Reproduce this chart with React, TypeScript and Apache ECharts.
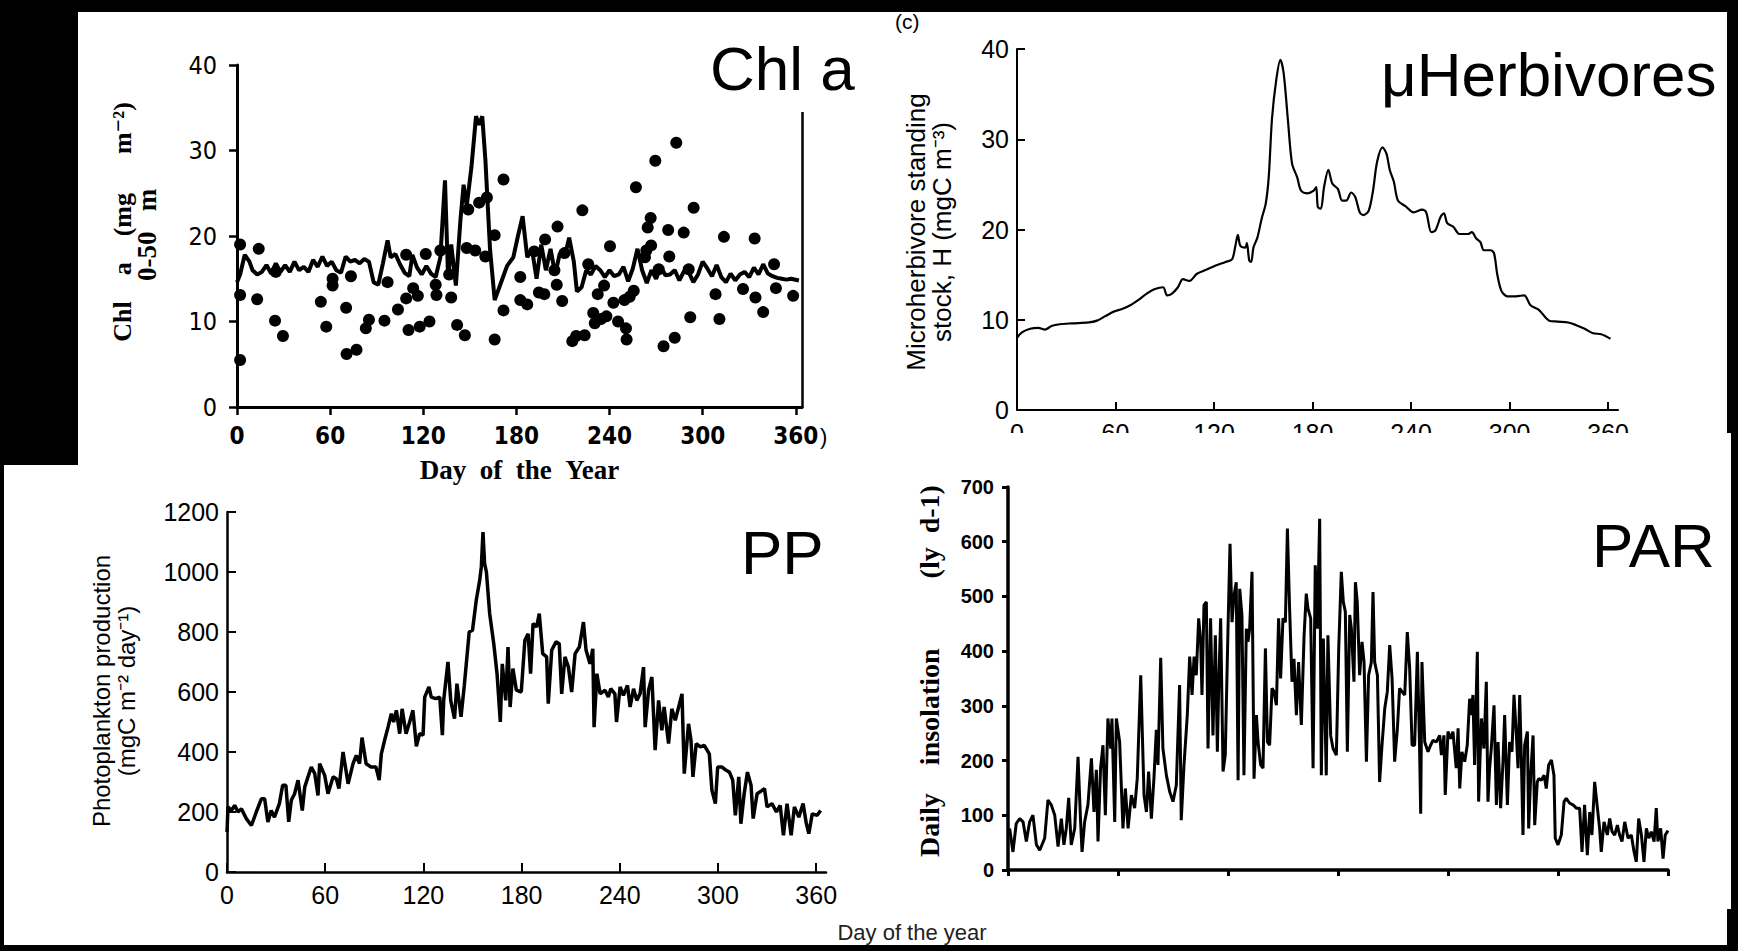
import React, { useEffect, useRef } from "react";
import * as echarts from "echarts";

// ---------- data ----------
const dayTicks = [0, 60, 120, 180, 240, 300, 360];

// Chl a (mg m-2, 0-50 m): model line [day, value]
const chlLine: [number, number][] = [
  [0, 14.6], [2, 15.5], [5, 17.8], [8, 17], [10, 16], [13, 15.5], [16, 15.8], [19, 16.6], [22, 15.6], [25, 16.8],
  [28, 15.8], [31, 16.6], [34, 15.8], [37, 17], [40, 16], [43, 16.4], [46, 15.8], [49, 17.2], [52, 16.4], [55, 17.6],
  [58, 16.5], [61, 17], [64, 16], [67, 15.7], [70, 17.6], [73, 17], [76, 17.2], [79, 16.8], [82, 17.3], [85, 17],
  [88, 14.6], [91, 14.3], [94, 16.8], [97, 19.5], [99, 17.5], [102, 17.9], [105, 16.7], [108, 15.7], [111, 15.3], [113, 17.8],
  [116, 16.3], [119, 15.5], [122, 16.5], [125, 15.6], [128, 15.2], [131, 17.5], [134, 26.5], [136, 15], [138, 19], [141, 14.2],
  [144, 22], [146, 26], [148, 23.5], [151, 28], [154, 34], [156, 33], [158, 34], [160, 29], [163, 18.5], [166, 12.5],
  [170, 14.5], [174, 16.5], [178, 17.5], [181, 20], [184, 22.3], [187, 17.5], [190, 18.5], [193, 15], [196, 19], [199, 16],
  [202, 18.5], [205, 15.5], [208, 18], [211, 17.5], [214, 19.8], [217, 17], [219, 13.5], [222, 14], [225, 16], [228, 15.5],
  [231, 16.5], [234, 16], [237, 15.2], [240, 16], [243, 15.3], [246, 15.5], [249, 16.4], [252, 14.7], [255, 16.2], [258, 18.5],
  [261, 16], [264, 14.5], [267, 16], [270, 15], [273, 16.4], [276, 15.4], [279, 15.5], [282, 16], [285, 14.8], [288, 15.9],
  [291, 15.8], [294, 14.6], [297, 15.5], [300, 17], [303, 16.2], [306, 15.3], [309, 16.6], [312, 15.2], [315, 14.6], [318, 15.6],
  [321, 14.8], [324, 15.5], [327, 15.8], [330, 15.2], [333, 16.3], [336, 15.5], [339, 16.7], [342, 15.6], [345, 15.3], [348, 15.1],
  [351, 15], [354, 14.9], [357, 15], [362, 14.8],
];

// Chl a observations [day, value]
const chlObs: [number, number][] = [
  [2, 19], [2, 13.1], [2, 5.5], [13, 12.6], [14, 18.5], [24.5, 10.1], [25, 15.8], [29.6, 8.3], [54, 12.3], [57.5, 9.4],
  [61.6, 15], [61.6, 14.2], [70.3, 11.6], [70.6, 6.2], [73.4, 15.3], [77, 6.7], [83, 9.2], [85, 10.2], [95, 10.1], [97, 14.6],
  [103.7, 11.4], [109, 17.8], [109, 12.7], [110.5, 9], [113.5, 13.9], [116.5, 13], [117.7, 9.4], [121.6, 17.9], [124, 10], [128, 14.3],
  [128.5, 13.1], [131, 18.3], [136.7, 15.5], [138, 12.8], [141.8, 9.6], [146.8, 8.4], [148, 18.6], [149, 23.1], [153.5, 18.3], [156, 23.9],
  [160, 17.6], [161, 24.5], [166, 20.1], [166, 7.9], [171.7, 26.6], [171.7, 11.3], [182.5, 15.2], [182.5, 12.5], [187, 12], [191.5, 18.2],
  [194.5, 13.4], [198, 13.2], [198.5, 19.6], [204.5, 16], [206.5, 21.1], [206, 14.3], [209.5, 12.4], [211, 18], [216, 7.7], [218.5, 8.3],
  [222.5, 23], [224, 8.4], [226.3, 16.7], [229.5, 11], [230.5, 9.8], [232.4, 13.2], [234.5, 10.3], [236.5, 14.2], [238, 10.6], [240.3, 18.8],
  [242.5, 12.2], [245.5, 10], [249.6, 12.5], [250.6, 9.2], [251, 7.9], [253, 12.9], [255.6, 13.6], [257, 25.7], [262.8, 17.5], [263.7, 18.3],
  [264.6, 21], [266.5, 22.1], [266.8, 18.9], [269.5, 28.8], [271.7, 16.1], [274.8, 7.1], [277.8, 20.7], [278.5, 17.6], [282, 8.1], [283, 30.9],
  [287.8, 20.4], [291, 16.1], [292, 10.5], [294.2, 23.3], [308.3, 13.2], [310.8, 10.3], [313.7, 19.9], [326, 13.8], [333.5, 19.7], [334, 12.8],
  [339, 11.1], [346, 16.7], [347.2, 13.9], [358.3, 13],
];

// Microherbivore standing stock (mgC m-3) [day, value]
const herbLine: [number, number][] = [
  [0, 8.0], [3, 8.6], [8, 9.0], [13, 9.1], [17, 8.9], [21, 9.3], [26, 9.5], [33.5, 9.6], [43.7, 9.7], [48.7, 9.9],
  [53.8, 10.4], [58.9, 10.9], [64, 11.2], [69, 11.6], [74, 12.2], [79, 12.9], [84, 13.4], [89, 13.6], [91.4, 12.7], [94.4, 12.9],
  [98, 13.6], [101, 14.5], [105, 14.3], [109.6, 15.1], [114.7, 15.5], [121, 16], [127, 16.4], [131, 16.7], [133, 18.2], [134.5, 19.4],
  [136, 18.2], [139, 18], [140, 18.5], [141.4, 16.6], [142.6, 16.4], [144, 18], [146.4, 19.1], [149, 21.2], [151.5, 22.9], [153.3, 25.8],
  [155.3, 32.3], [157.9, 36.6], [160.4, 38.8], [162.4, 37.3], [165, 32.1], [167.5, 27.3], [170.6, 25.8], [173, 24.3], [176.9, 24], [180.7, 24.3],
  [182.2, 24.7], [183.2, 22.5], [185, 22.3], [187, 24.7], [189.6, 26.6], [192, 25.1], [195.4, 24.5], [198, 23.2], [200.5, 23.2], [203.5, 24.1],
  [206, 23.6], [208.7, 21.9], [211, 21.6], [214.2, 22.1], [216.8, 24.3], [219.3, 27.5], [222.6, 29.1], [225, 28.4], [227, 26.6], [229.5, 25.3],
  [232, 23.2], [236.5, 22.6], [241.6, 21.9], [246.7, 22.2], [249.2, 21.9], [252.3, 19.7], [254.8, 19.9], [258, 21.4], [260, 21.8], [262, 20.7],
  [265.7, 20.3], [269.5, 19.5], [274.6, 19.5], [277, 19.7], [279.7, 19], [282.2, 18.6], [284.3, 17.7], [288.6, 17.7], [290.6, 17.3], [292.4, 15.1],
  [295, 13.2], [298.7, 12.6], [303.8, 12.6], [308.9, 12.7], [312.7, 11.6], [317.8, 11.1], [324.1, 9.9], [329.2, 9.8], [335.6, 9.7], [340.6, 9.4],
  [345.7, 9], [350.8, 8.5], [355.8, 8.4], [361.4, 7.9],
];

// Phytoplankton production (mgC m-2 day-1) [day, value]
const ppLine: [number, number][] = [
  [0, 133], [0.6, 217], [2.6, 205], [4.7, 222], [6.7, 200], [8.8, 211], [11.8, 178], [14.9, 155], [17.9, 200], [21, 244],
  [23, 244], [25, 167], [27, 205], [29, 183], [32, 228], [34, 289], [36, 289], [37.7, 167], [39.3, 239], [41.3, 261],
  [43.4, 306], [46, 205], [47.5, 283], [49.5, 317], [51.5, 350], [53.6, 328], [55.6, 255], [56.6, 361], [59.7, 322], [61.7, 261],
  [64.8, 317], [66.8, 311], [68.4, 278], [70.9, 400], [74, 294], [77, 361], [79, 389], [81, 361], [82.5, 448], [85, 361],
  [88, 350], [91, 350], [93, 306], [94.3, 394], [96.3, 439], [98.4, 483], [100.4, 528], [101.8, 500], [103.5, 539], [105.5, 461],
  [107, 544], [109.4, 461], [111.6, 500], [113.6, 539], [115.7, 419], [117.7, 461], [119.8, 456], [120.8, 583], [123.4, 617], [124.8, 583],
  [127.5, 578], [130, 583], [131.6, 456], [132.4, 572], [135, 700], [136.7, 572], [139, 511], [140.5, 628], [143, 517], [145, 622],
  [148, 800], [150, 806], [152.3, 906], [154.4, 972], [155.4, 1017], [156.4, 1133], [157.4, 1028], [158.5, 1000], [160.5, 861], [163, 761],
  [165, 661], [167, 500], [168.2, 694], [170.3, 572], [171.7, 750], [173, 550], [174.7, 678], [176.8, 606], [179.8, 600], [182, 772],
  [184, 794], [185.5, 661], [187, 828], [189.2, 817], [190.8, 861], [192.9, 728], [195.3, 717], [196.3, 561], [198.4, 739], [201, 767],
  [203, 761], [204.5, 594], [206.5, 717], [208.6, 683], [210.6, 600], [212.7, 728], [215.3, 750], [217.8, 833], [219.4, 739], [221.8, 694],
  [223.5, 744], [224.3, 483], [226, 661], [228, 594], [231, 606], [233, 583], [234.5, 611], [237, 594], [238, 500], [240.2, 617],
  [242.2, 589], [244.7, 622], [246.3, 550], [248.4, 611], [250.4, 572], [252.4, 594], [254.5, 683], [255.5, 483], [257.6, 606], [259.6, 650],
  [261.6, 406], [263.7, 572], [265.7, 472], [267.1, 550], [269.8, 428], [271.8, 544], [273.9, 506], [276.5, 561], [278, 594], [279.4, 328],
  [282, 494], [283.5, 439], [284.7, 317], [286.7, 428], [289.2, 417], [291.6, 422], [294.7, 394], [296.3, 272], [298.4, 228], [299.8, 350],
  [302.4, 350], [305, 339], [307, 333], [309, 306], [310.6, 189], [312.7, 317], [314, 161], [316, 261], [318, 333], [320.2, 289],
  [321.5, 178], [323.9, 261], [327, 272], [328.4, 278], [330, 217], [333, 228], [335.7, 200], [338, 222], [340, 122], [342.2, 228],
  [344.7, 122], [346.7, 217], [349.4, 183], [352, 228], [354, 161], [355.5, 128], [357.6, 194], [360.6, 189], [362.7, 205],
];

// Daily insolation (ly d-1) [day, value]
const parLine: [number, number][] = [
  [0.9, 76], [2.7, 33], [4.5, 85], [6.4, 94], [8.2, 88], [10, 52], [11.8, 88], [13.6, 100], [15.5, 46], [17.3, 36],
  [20, 58], [21.8, 128], [23.6, 119], [25.5, 100], [27.3, 43], [29.1, 94], [30.5, 46], [31.8, 76], [33.1, 132], [34.5, 46],
  [36.4, 76], [38.2, 207], [39.6, 88], [40.4, 33], [41.8, 88], [43.6, 119], [45.5, 204], [46.9, 106], [48.2, 183], [49.1, 52],
  [50.5, 186], [51.8, 228], [53.1, 100], [54.5, 277], [56, 222], [56.7, 277], [58.2, 88], [59.1, 277], [60.9, 234], [62.7, 76],
  [64, 149], [65.5, 76], [67.3, 137], [69.1, 113], [70.5, 167], [72.4, 356], [74.2, 137], [75.5, 106], [76.7, 180], [78.2, 94],
  [79.6, 167], [80.9, 256], [81.8, 192], [83.3, 388], [84.5, 222], [86.4, 173], [88.2, 143], [90, 125], [91.8, 155], [93.6, 338],
  [94.5, 91], [96, 192], [97.8, 283], [99.1, 390], [100.4, 320], [101.5, 390], [102.7, 356], [104, 460], [105.1, 417], [105.8, 320],
  [106.9, 484], [108.2, 490], [109.1, 222], [110.5, 460], [111.8, 246], [113.1, 429], [114.2, 216], [114.9, 332], [116, 460], [117.3, 180],
  [118.5, 210], [120, 441], [121.1, 596], [122.2, 453], [123.3, 502], [124.5, 526], [125.5, 164], [126.4, 514], [127.6, 466], [128.7, 173],
  [130, 441], [130.9, 417], [131.8, 441], [133.1, 545], [134.2, 167], [135.5, 283], [136.4, 234], [137.8, 192], [139.1, 186], [140.4, 405],
  [141.5, 234], [142.7, 228], [144, 332], [145.1, 326], [146.4, 301], [147.6, 460], [148.7, 350], [150, 460], [151.3, 453], [152.4, 624],
  [153.6, 478], [154.9, 344], [156, 386], [157.3, 283], [158.5, 380], [160, 265], [161.5, 429], [162.7, 505], [163.6, 478], [165.1, 460],
  [166.4, 186], [167.6, 557], [168.7, 441], [170, 642], [170.9, 173], [172, 423], [173.6, 173], [174.5, 429], [176, 246], [177.3, 222],
  [179.1, 210], [180.4, 405], [181.8, 545], [182.9, 490], [184, 472], [185.1, 216], [186.4, 466], [187.3, 441], [188.7, 344], [189.5, 526],
  [190.5, 490], [191.8, 356], [193.1, 417], [194.2, 380], [195.5, 198], [196.7, 356], [198.2, 380], [199.1, 508], [200, 380], [201.5, 356],
  [202.7, 161], [204, 228], [205.5, 295], [206.9, 326], [208.2, 411], [209.5, 350], [210.9, 198], [212.4, 259], [213.6, 332], [214.9, 326],
  [216.4, 320], [217.8, 435], [219.1, 368], [220.4, 228], [221.8, 228], [223.3, 399], [224.5, 222], [225.1, 103], [225.8, 380], [227.3, 234],
  [229.1, 216], [230.5, 228], [231.8, 237], [233.6, 234], [235.5, 246], [236.4, 210], [237.8, 246], [238.5, 137], [240, 253], [241.5, 240],
  [242.7, 253], [244.5, 186], [245.5, 259], [246.4, 149], [247.6, 216], [249.1, 198], [250.5, 228], [251.8, 313], [252.7, 283], [253.6, 320],
  [254.5, 192], [256, 399], [256.7, 125], [258.2, 277], [259.6, 222], [260.9, 344], [261.8, 125], [262.7, 186], [263.6, 222], [265.1, 301],
  [266.4, 119], [267.3, 234], [268.7, 113], [270, 198], [270.9, 283], [272.4, 119], [273.6, 234], [274.9, 216], [276, 320], [277.3, 246],
  [278.2, 186], [279.1, 320], [280, 204], [280.9, 64], [281.8, 228], [283.3, 253], [284, 76], [285.1, 173], [286.4, 246], [287.3, 82],
  [288.7, 161], [289.5, 167], [290.9, 164], [292.4, 173], [293.6, 149], [294.9, 192], [296.4, 201], [297.8, 173], [298.5, 58], [300, 46],
  [301.8, 64], [303.3, 125], [304.5, 131], [306.4, 122], [308.2, 119], [310, 113], [311.8, 113], [313.1, 33], [314.5, 119], [316, 27],
  [317.3, 106], [318.5, 64], [320, 161], [321.5, 113], [322.7, 76], [323.6, 33], [325.1, 88], [326.9, 64], [328.2, 94], [329.5, 70],
  [330.9, 64], [332.4, 82], [333.6, 64], [334.9, 52], [336.4, 88], [338.2, 58], [340, 64], [341.5, 33], [342.7, 15], [344, 94],
  [345.5, 64], [346.9, 15], [348.2, 76], [349.5, 58], [350.9, 70], [352.4, 52], [353.6, 113], [354.5, 52], [356, 76], [357.3, 21],
  [358.5, 64], [360, 72],
];

// ---------- styling ----------
const SANS = "'Liberation Sans', Arial, Helvetica, sans-serif";
const NARROW = "'Liberation Sans Narrow', 'Arial Narrow', 'DejaVu Sans Condensed', sans-serif";
const SERIF = "'Liberation Serif', 'Times New Roman', 'DejaVu Serif', serif";
const K = "#000";
const S = "\u00a0"; // non-collapsing space for wide word gaps
const sp = (n: number) => S.repeat(n);

function txt(text: string, x: number, y: number, size: number, family: string, opts: any = {}) {
  return {
    type: "text",
    x,
    y,
    rotation: opts.rotation || 0,
    z: 60,
    silent: true,
    style: {
      text,
      fill: opts.fill || K,
      fontSize: size,
      fontFamily: family,
      fontWeight: opts.weight || "normal",
      fontStyle: opts.style || "normal",
      align: opts.align || "center",
      verticalAlign: opts.valign || "middle",
      textAlign: opts.align || "center",
      textVerticalAlign: opts.valign || "middle",
    },
  };
}

function rect(x: number, y: number, w: number, h: number, fill: string, z = 100) {
  return { type: "rect", z, silent: true, shape: { x, y, width: w, height: h }, style: { fill } };
}

const plain = (v: number) => String(v);

export default function App() {
  const ref = useRef<HTMLDivElement>(null);

  useEffect(() => {
    if (!ref.current) return;
    const chart = echarts.init(ref.current, undefined, { renderer: "svg" });

    const baseX = (grid: number, max: number, lw: number) => ({
      type: "value",
      gridIndex: grid,
      min: 0,
      max,
      splitLine: { show: false },
      axisLine: { show: true, onZero: false, lineStyle: { color: K, width: lw } },
    });
    const baseY = (grid: number, max: number, interval: number, lw: number) => ({
      type: "value",
      gridIndex: grid,
      min: 0,
      max,
      interval,
      splitLine: { show: false },
      axisLine: { show: true, onZero: false, lineStyle: { color: K, width: lw } },
    });

    const option: any = {
      animation: false,
      backgroundColor: "#fff",
      grid: [
        { left: 237, top: 65, width: 565, height: 342 },
        { left: 1017, top: 49, width: 601, height: 361 },
        { left: 227, top: 512, width: 599, height: 360 },
        { left: 1008, top: 487, width: 660, height: 383 },
      ],
      xAxis: [
        {
          ...baseX(0, 364, 3),
          axisTick: { show: true, inside: false, length: 8, customValues: dayTicks, lineStyle: { color: K, width: 2.5 } },
          axisLabel: { customValues: dayTicks, margin: 17, color: K, fontSize: 24, fontWeight: "bold", fontFamily: NARROW, formatter: plain },
          name: "Day" + sp(2) + "of" + sp(2) + "the" + sp(2) + "Year",
          nameLocation: "middle",
          nameGap: 49,
          nameTextStyle: { color: K, fontSize: 27, fontWeight: "bold", fontFamily: SERIF },
        },
        {
          ...baseX(1, 366, 2),
          axisTick: { show: true, inside: true, length: 8, customValues: dayTicks, lineStyle: { color: K, width: 2 } },
          axisLabel: { customValues: dayTicks, margin: 10, color: K, fontSize: 25, fontFamily: SANS, formatter: plain },
        },
        {
          ...baseX(2, 366, 2.5),
          axisTick: { show: true, inside: true, length: 9, customValues: dayTicks, lineStyle: { color: K, width: 2 } },
          axisLabel: { customValues: dayTicks, margin: 10, color: K, fontSize: 25, fontFamily: SANS, formatter: plain },
        },
        {
          ...baseX(3, 360, 3.5),
          interval: 60,
          axisTick: { show: true, inside: false, length: 6, lineStyle: { color: K, width: 3 } },
          axisLabel: { show: false },
        },
        {
          ...baseX(3, 360, 0),
          interval: 60,
          axisLine: { show: false },
          axisTick: { show: true, inside: true, length: 6, lineStyle: { color: K, width: 3 } },
          axisLabel: { show: false },
        },
      ],
      yAxis: [
        {
          ...baseY(0, 40, 10, 3),
          axisTick: { show: true, inside: false, length: 8, lineStyle: { color: K, width: 2.5 } },
          axisLabel: { margin: 20, color: K, fontSize: 25, fontFamily: NARROW, formatter: plain },
        },
        {
          ...baseY(0, 40, 10, 2.5),
          position: "right",
          axisTick: { show: false },
          axisLabel: { show: false },
        },
        {
          ...baseY(1, 40, 10, 2),
          axisTick: { show: true, inside: true, length: 8, lineStyle: { color: K, width: 2 } },
          axisLabel: { margin: 8, color: K, fontSize: 25, fontFamily: SANS, formatter: plain },
        },
        {
          ...baseY(2, 1200, 200, 2.5),
          axisTick: { show: true, inside: true, length: 9, lineStyle: { color: K, width: 2 } },
          axisLabel: { margin: 8, color: K, fontSize: 25, fontFamily: SANS, formatter: plain },
        },
        {
          ...baseY(3, 700, 100, 3.5),
          axisTick: { show: true, inside: false, length: 6, lineStyle: { color: K, width: 3 } },
          axisLabel: { margin: 14, color: K, fontSize: 20, fontWeight: "bold", fontFamily: SANS, formatter: plain },
        },
        {
          ...baseY(3, 700, 100, 0),
          axisLine: { show: false },
          axisTick: { show: true, inside: true, length: 6, lineStyle: { color: K, width: 3 } },
          axisLabel: { show: false },
        },
      ],
      series: [
        {
          type: "line", xAxisIndex: 0, yAxisIndex: 0, data: chlLine, showSymbol: false,
          lineStyle: { color: K, width: 4 }, z: 3,
        },
        {
          type: "scatter", xAxisIndex: 0, yAxisIndex: 0, data: chlObs, symbol: "circle", symbolSize: 12,
          itemStyle: { color: K, opacity: 1 }, z: 4,
        },
        {
          type: "line", xAxisIndex: 1, yAxisIndex: 2, data: herbLine, showSymbol: false, smooth: 0.3,
          lineStyle: { color: K, width: 2.2 },
        },
        {
          type: "line", xAxisIndex: 2, yAxisIndex: 3, data: ppLine, showSymbol: false,
          lineStyle: { color: K, width: 3.5 },
        },
        {
          type: "line", xAxisIndex: 3, yAxisIndex: 4, data: parLine, showSymbol: false,
          lineStyle: { color: K, width: 3 },
        },
      ],
      graphic: [
        // white masks over cut parts of the source figures
        rect(785, 40, 40, 72, "#fff", 50),
        rect(990, 433, 740, 48, "#fff", 50),
        // black frame bands
        rect(0, 0, 1738, 12, K),
        rect(0, 0, 78, 465, K),
        rect(0, 465, 4, 486, K),
        rect(1727, 0, 11, 433, K),
        rect(1731, 433, 7, 480, K),
        rect(1727, 909, 11, 42, K),
        rect(0, 945, 1738, 6, K),
        // panel labels
        txt("Chl a", 710, 68, 62, SANS, { align: "left" }),
        txt("\u03bcHerbivores", 1381, 74, 62, SANS, { align: "left" }),
        txt("PP", 741, 552, 62, SANS, { align: "left" }),
        txt("PAR", 1592, 545, 62, SANS, { align: "left" }),
        txt("(c)", 895, 21, 21, SANS, { align: "left" }),
        txt(")", 820, 436, 22, SANS, { align: "left" }),
        txt("Day of the year", 912, 932, 22, SANS, { fill: "#222" }),
        // rotated axis titles
        txt("Chl" + sp(4) + "a" + sp(4) + "(mg" + sp(6) + "m\u207b\u00b2)", 122, 222, 26, SERIF, { rotation: Math.PI / 2, weight: "bold" }),
        txt("0-50" + sp(3) + "m", 147, 235, 27, SERIF, { rotation: Math.PI / 2, weight: "bold" }),
        txt("Microherbivore standing", 916, 232, 26, SANS, { rotation: Math.PI / 2 }),
        txt("stock, H (mgC m\u207b\u00b3)", 942, 232, 26, SANS, { rotation: Math.PI / 2 }),
        txt("Photoplankton production", 101, 691, 24, SANS, { rotation: Math.PI / 2 }),
        txt("(mgC m\u207b\u00b2 day\u207b\u00b9)", 126, 691, 24, SANS, { rotation: Math.PI / 2 }),
        txt("Daily" + sp(4) + "insolation" + sp(10) + "(ly" + sp(2) + "d-1)", 929, 671, 28, SERIF, { rotation: Math.PI / 2, weight: "bold" }),
      ],
    };

    chart.setOption(option);
    return () => chart.dispose();
  }, []);

  return (
    <div
      ref={ref}
      style={{ position: "fixed", left: 0, top: 0, width: 1738, height: 951, background: "#fff" }}
    />
  );
}
